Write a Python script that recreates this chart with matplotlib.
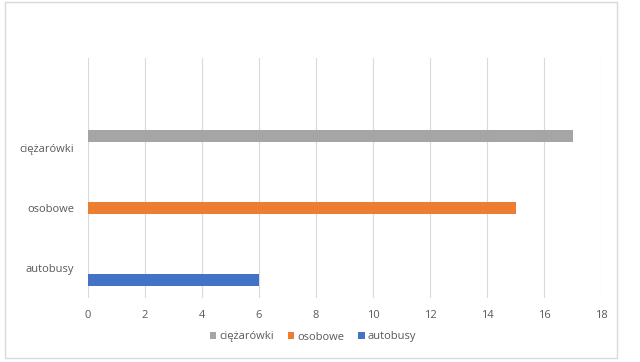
import matplotlib
matplotlib.use("Agg")
import matplotlib.pyplot as plt
from matplotlib.patches import Rectangle
import numpy as np

categories = ["autobusy", "osobowe", "ciężarówki", ""]
series_names = ["autobusy", "osobowe", "ciężarówki"]
autobusy = [6, 0, 0, 0]
osobowe = [0, 15, 0, 0]
ciezarowki = [0, 0, 17, 0]
x_ticks = [0, 2, 4, 6, 8, 10, 12, 14, 16, 18]

colors = {"autobusy": "#4472C4", "osobowe": "#ED7D31", "ciężarówki": "#A5A5A5"}
values = {"autobusy": autobusy, "osobowe": osobowe, "ciężarówki": ciezarowki}
offsets = {"autobusy": -0.2, "osobowe": 0.0, "ciężarówki": 0.2}

plt.rcParams['font.family'] = ['Open Sans', 'DejaVu Sans']
fig = plt.figure(figsize=(6.4, 3.62), dpi=100)
ax = fig.add_axes([88/640, 1-298/362, (601-88)/640, (298-58)/362])

y = np.arange(len(categories))
handles = {}
for name in series_names:
    h = ax.barh(y + offsets[name], values[name], height=0.2, color=colors[name], label=name)
    handles[name] = h

ax.set_xlim(0, 18)
ax.set_ylim(-0.5, len(categories) - 0.5)
ax.set_xticks(x_ticks)
ax.set_xticklabels([str(t) for t in x_ticks])
ax.set_yticks(y)
ax.set_yticklabels(categories)
ax.tick_params(axis='both', length=0, labelsize=8, colors="#595959")
ax.tick_params(axis='x', pad=9)
ax.tick_params(axis='y', pad=10)
ax.grid(axis='x', color="#d9d9d9", linewidth=0.8)
ax.set_axisbelow(True)
for s in ax.spines.values():
    s.set_visible(False)

order = ["ciężarówki", "osobowe", "autobusy"]
leg = fig.legend([handles[n] for n in order], order, loc='center', bbox_to_anchor=(313/640, 1-337/362),
                 ncol=3, frameon=False, fontsize=8, handlelength=0.6, handleheight=0.6,
                 handletextpad=0.3, columnspacing=1.2, labelcolor="#595959")

fig.patches.append(Rectangle((5/640, 1-358/362), (617-5)/640, (358-1.5)/362, transform=fig.transFigure,
                             fill=False, edgecolor="#d9d9d9", linewidth=1.0))

fig.savefig("out.png", dpi=100, facecolor="white")
